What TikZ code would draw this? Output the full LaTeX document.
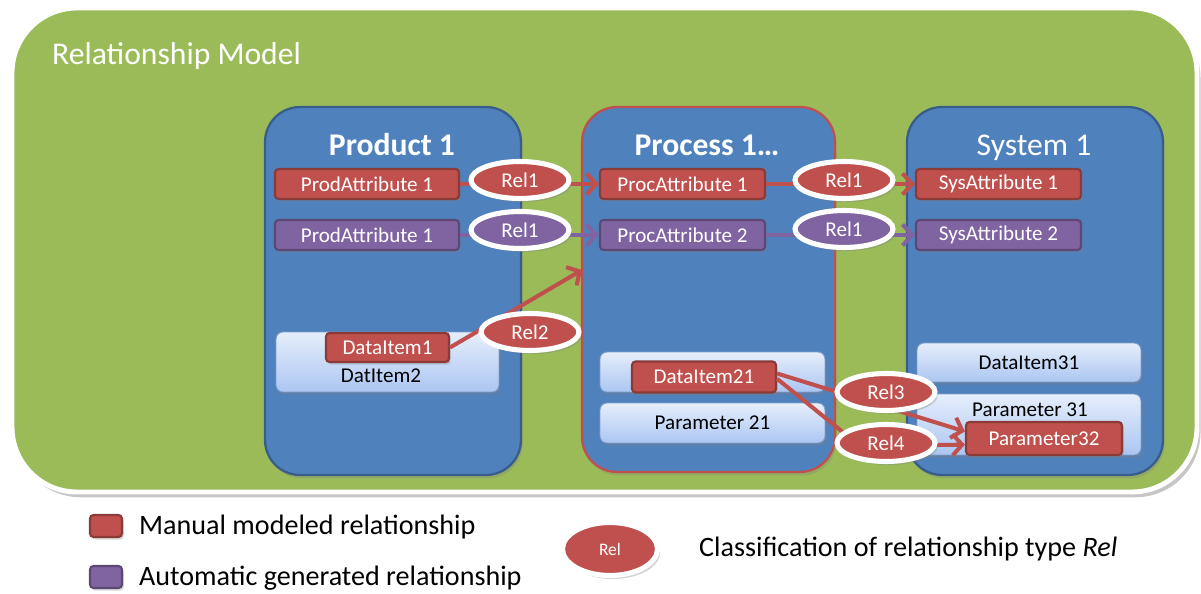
\documentclass[tikz,border=0pt]{standalone}
\usepackage{fontspec}
\setmainfont{Carlito}
\usetikzlibrary{shapes.geometric,arrows.meta,shadows}
\definecolor{modelgreen}{HTML}{9BBB59}
\definecolor{unitblue}{HTML}{4F81BD}
\definecolor{unitedge}{HTML}{385D8A}
\definecolor{relred}{HTML}{C0504D}
\definecolor{relpurple}{HTML}{8064A2}
\definecolor{itemtop}{HTML}{E6EEFB}
\definecolor{itembottom}{HTML}{ABC6F2}
\definecolor{itemedge}{HTML}{7F9FCF}
\begin{document}
\begin{tikzpicture}[x=0.02cm,y=-0.02cm,
  unit/.style={draw=#1,line width=1.3pt,fill=unitblue,rounded corners=0.7cm,inner sep=0pt,
    drop shadow={opacity=0.3,shadow xshift=1pt,shadow yshift=-2pt}},
  title/.style={text=white,font=\fontsize{18}{20}\selectfont,anchor=base},
  attr/.style={draw=#1!72!black,fill=#1,line width=1.2pt,rounded corners=2pt,text=white,
    font=\fontsize{12}{14}\selectfont,minimum height=0.6cm,inner sep=0pt,
    drop shadow={opacity=0.3,shadow xshift=1pt,shadow yshift=-1.5pt}},
  item/.style={draw=itemedge,line width=0.5pt,top color=itemtop,bottom color=itembottom,
    rounded corners=4pt,inner sep=0pt,
    drop shadow={opacity=0.35,shadow xshift=1pt,shadow yshift=-1.5pt}},
  rel/.style={ellipse,draw=white,line width=2.9pt,fill=#1,text=white,
    font=\fontsize{12}{14}\selectfont,minimum width=1.96cm,minimum height=0.74cm,inner sep=0pt,
    drop shadow={opacity=0.35,shadow xshift=1.5pt,shadow yshift=-2pt}},
  link/.style={draw=#1,line width=2.3pt,-{Straight Barb[length=5.5pt,width=12pt]}},
  legend/.style={anchor=west,font=\fontsize{16}{18}\selectfont}]

  \useasboundingbox (0,0) rectangle (1201,594);

  % model area
  \draw[draw=white,line width=2.8pt,fill=modelgreen,rounded corners=1.3cm,
    drop shadow={opacity=0.45,shadow xshift=2pt,shadow yshift=-3pt}] (12,8) rectangle (1197,492);
  \node[title,anchor=base west] (model) at (46,65) {Relationship Model};

  % product, process, system
  \node[unit=unitedge,minimum width=5.12cm,minimum height=7.36cm] (prod) at (393,291) {};
  \node[unit=relred,minimum width=5.06cm,minimum height=7.3cm] (proc) at (708.5,289.5) {};
  \node[unit=unitedge,minimum width=5.12cm,minimum height=7.36cm] (sys) at (1035,291) {};
  \node[title,font=\fontsize{18}{20}\selectfont\bfseries] (prodtitle) at (392,156) {Product 1};
  \node[title,font=\fontsize{18}{20}\selectfont\bfseries] (proctitle) at (707,156) {Process 1…};
  \node[title] (systitle) at (1034,156) {System 1};

  % data items and parameters
  \node[item,minimum width=4.46cm,minimum height=1.2cm] (di2) at (387.5,362) {};
  \node[font=\fontsize{12}{14}\selectfont] (di2text) at (381,376) {DatItem2};
  \node[item,minimum width=4.5cm,minimum height=0.8cm] (di21box) at (712.5,372) {};
  \node[item,minimum width=4.5cm,minimum height=0.8cm,font=\fontsize{12}{14}\selectfont]
    (par21) at (712.5,423) {Parameter 21};
  \node[item,minimum width=4.48cm,minimum height=0.78cm,font=\fontsize{12}{14}\selectfont]
    (di31) at (1029,362.5) {DataItem31};
  \node[item,minimum width=4.48cm,minimum height=1.22cm] (par31) at (1029,424.5) {};
  \node[font=\fontsize{12}{14}\selectfont] (par31text) at (1030,410) {Parameter 31};

  % attributes
  \node[attr=relred,minimum width=3.68cm] (pa1) at (367,184) {ProdAttribute 1};
  \node[attr=relpurple,minimum width=3.68cm] (pa2) at (367,235) {ProdAttribute 1};
  \node[attr=relred,minimum width=3.3cm] (ca1) at (682.5,184) {ProcAttribute 1};
  \node[attr=relpurple,minimum width=3.3cm] (ca2) at (682.5,235) {ProcAttribute 2};
  \node[attr=relred,minimum width=3.3cm] (sa1) at (998.5,184) {SysAttribute 1};
  \node[attr=relpurple,minimum width=3.3cm] (sa2) at (998.5,235) {SysAttribute 2};
  \node[attr=relred,minimum width=2.46cm,minimum height=0.58cm] (d1) at (387.5,347.5) {DataItem1};
  \node[attr=relred,minimum width=2.88cm,minimum height=0.62cm] (d21) at (704,377) {DataItem21};
  \node[attr=relred,minimum width=3.12cm,minimum height=0.66cm] (p32) at (1044,438.5) {Parameter32};

  % relationships
  \coordinate (t2) at (582,270);
  \coordinate (b4) at (860,446);
  \path (pa1) edge[link=relred] (ca1)
        (pa2) edge[link=relpurple] (ca2)
        (ca1) edge[link=relred] (sa1)
        (ca2) edge[link=relpurple] (sa2)
        (d1.east) edge[link=relred] (t2)
        ([yshift=2pt]d21.east) edge[link=relred] ([yshift=4pt]p32.west);
  \draw[link=relred] ([yshift=-1pt]d21.east) -- (b4) -- ([yshift=-3.5pt]p32.west);

  \node[rel=relred] (r1a) at (520,180) {Rel1};
  \node[rel=relpurple] (r1b) at (520,230) {Rel1};
  \node[rel=relred] (r1c) at (844,180) {Rel1};
  \node[rel=relpurple] (r1d) at (844,229) {Rel1};
  \node[rel=relred] (r2) at (530,332) {Rel2};
  \node[rel=relred] (r3) at (886,392) {Rel3};
  \node[rel=relred] (r4) at (886,443) {Rel4};

  % legend
  \node[attr=relred,minimum width=0.64cm,minimum height=0.44cm] (manual) at (106,526) {};
  \node[legend] (manualtext) at (133,527) {Manual modeled relationship};
  \node[attr=relpurple,minimum width=0.64cm,minimum height=0.44cm] (auto) at (106,577) {};
  \node[legend] (autotext) at (133,578) {Automatic generated relationship};
  \node[rel=relred,minimum width=1.9cm,minimum height=1.06cm,font=\fontsize{10}{12}\selectfont]
    (relkey) at (610,549) {Rel};
  \node[legend] (relkeytext) at (693,549) {Classification of relationship type \textit{Rel}};
\end{tikzpicture}
\end{document}
